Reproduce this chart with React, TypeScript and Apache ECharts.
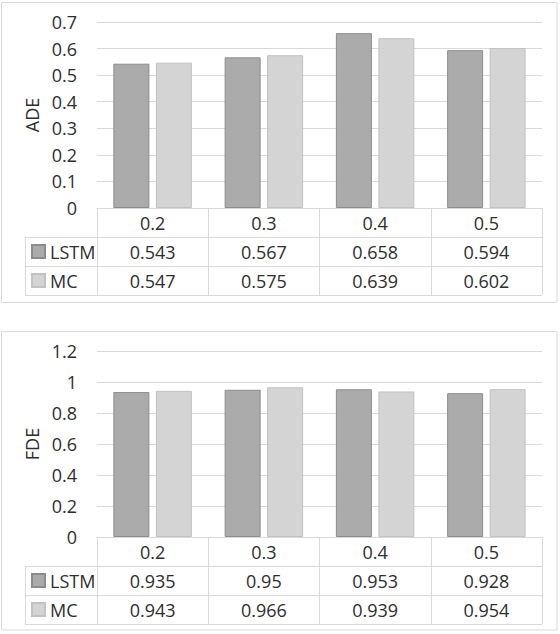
import { useEffect, useRef } from "react";
import * as echarts from "echarts";

// horizon categories and the two metrics
const horizons = ["0.2", "0.3", "0.4", "0.5"];
const adeLstm = [0.543, 0.567, 0.658, 0.594];
const adeMc = [0.547, 0.575, 0.639, 0.602];
const fdeLstm = [0.935, 0.95, 0.953, 0.928];
const fdeMc = [0.943, 0.966, 0.939, 0.954];
const seriesNames = ["LSTM", "MC"];

const FONT = "'Open Sans', sans-serif";
const TEXT = "#2e2e2e";
const LINE = "#d9d9d9";

const GRID_LEFT = 97;
const GRID_RIGHT = 18;
const PLOT_H = 186;
const ROW_H = 29;
const panelTops = [22, 351];

const label = {
  fontSize: 18,
  color: TEXT,
  fontFamily: FONT,
};

const headerAxis = (gridIndex: number) => ({
  type: "category",
  gridIndex,
  position: "bottom",
  data: horizons,
  axisLine: { lineStyle: { color: LINE } },
  axisTick: { show: true, length: ROW_H * 3, lineStyle: { color: LINE } },
  axisLabel: { ...label, margin: ROW_H / 2, verticalAlign: "middle" },
  splitLine: { show: false },
});

const rowAxis = (gridIndex: number, values: number[], offset: number) => ({
  type: "category",
  gridIndex,
  position: "bottom",
  offset,
  data: values.map(String),
  axisLine: { show: false },
  axisTick: { show: false },
  axisLabel: { ...label, margin: ROW_H / 2, verticalAlign: "middle" },
  splitLine: { show: false },
});

const valueAxis = (gridIndex: number, name: string, max: number, interval: number) => ({
  type: "value",
  gridIndex,
  min: 0,
  max,
  interval,
  name,
  nameLocation: "middle",
  nameGap: 56,
  nameTextStyle: label,
  axisLine: { show: false },
  axisTick: { show: false },
  axisLabel: { ...label, margin: 20 },
  splitLine: { lineStyle: { color: LINE, width: 1 } },
});

const barStyles = [
  { color: "#ababab", borderColor: "#8c8c8c", borderWidth: 1 },
  { color: "#d4d4d4", borderColor: "#c2c2c2", borderWidth: 1 },
];

const tableLines = (top: number) => {
  const base = top + PLOT_H;
  const x1 = 25;
  const x2 = 560 - GRID_RIGHT;
  return [
    ...[1, 2, 3].map((r) => ({
      type: "line",
      shape: { x1, y1: base + r * ROW_H + 0.5, x2, y2: base + r * ROW_H + 0.5 },
      style: { stroke: LINE, lineWidth: 1 },
    })),
    {
      type: "line",
      shape: { x1: x1 + 0.5, y1: base + ROW_H, x2: x1 + 0.5, y2: base + 3 * ROW_H },
      style: { stroke: LINE, lineWidth: 1 },
    },
  ];
};

const App = () => {
  const chartRef = useRef<HTMLDivElement>(null);

  useEffect(() => {
    if (!chartRef.current) return;
    const chart = echarts.init(chartRef.current, undefined, { renderer: "svg" });

    const option = {
      animation: false,
      textStyle: { fontFamily: FONT },
      grid: panelTops.map((top) => ({
        left: GRID_LEFT,
        right: GRID_RIGHT,
        top,
        height: PLOT_H,
      })),
      xAxis: [
        headerAxis(0),
        rowAxis(0, adeLstm, ROW_H),
        rowAxis(0, adeMc, ROW_H * 2),
        headerAxis(1),
        rowAxis(1, fdeLstm, ROW_H),
        rowAxis(1, fdeMc, ROW_H * 2),
      ],
      yAxis: [valueAxis(0, "ADE", 0.7, 0.1), valueAxis(1, "FDE", 1.2, 0.2)],
      legend: panelTops.map((top) => ({
        data: seriesNames,
        orient: "vertical",
        left: 31,
        top: top + PLOT_H + ROW_H + 4.5,
        icon: "rect",
        itemWidth: 13,
        itemHeight: 13,
        itemGap: 9,
        padding: 0,
        selectedMode: false,
        textStyle: { ...label, lineHeight: 20 },
      })),
      series: [
        { name: "LSTM", data: adeLstm, xAxisIndex: 0, yAxisIndex: 0, style: 0 },
        { name: "MC", data: adeMc, xAxisIndex: 0, yAxisIndex: 0, style: 1 },
        { name: "LSTM", data: fdeLstm, xAxisIndex: 3, yAxisIndex: 1, style: 0 },
        { name: "MC", data: fdeMc, xAxisIndex: 3, yAxisIndex: 1, style: 1 },
      ].map((s) => ({
        type: "bar",
        name: s.name,
        data: s.data,
        xAxisIndex: s.xAxisIndex,
        yAxisIndex: s.yAxisIndex,
        barWidth: 36,
        barGap: "18%",
        itemStyle: barStyles[s.style],
      })),
      graphic: [
        {
          type: "rect",
          shape: { x: 1.5, y: 2.5, width: 555.5, height: 300 },
          style: { fill: "none", stroke: LINE, lineWidth: 1 },
        },
        {
          type: "rect",
          shape: { x: 1.5, y: 331.5, width: 555.5, height: 298.5 },
          style: { fill: "none", stroke: LINE, lineWidth: 1 },
        },
        ...tableLines(panelTops[0]),
        ...tableLines(panelTops[1]),
      ],
    };

    chart.setOption(option);

    return () => {
      chart.dispose();
    };
  }, []);

  return (
    <div
      ref={chartRef}
      style={{ position: "absolute", left: 0, top: 0, width: "560px", height: "634px", background: "#fff" }}
    />
  );
};

export default App;
